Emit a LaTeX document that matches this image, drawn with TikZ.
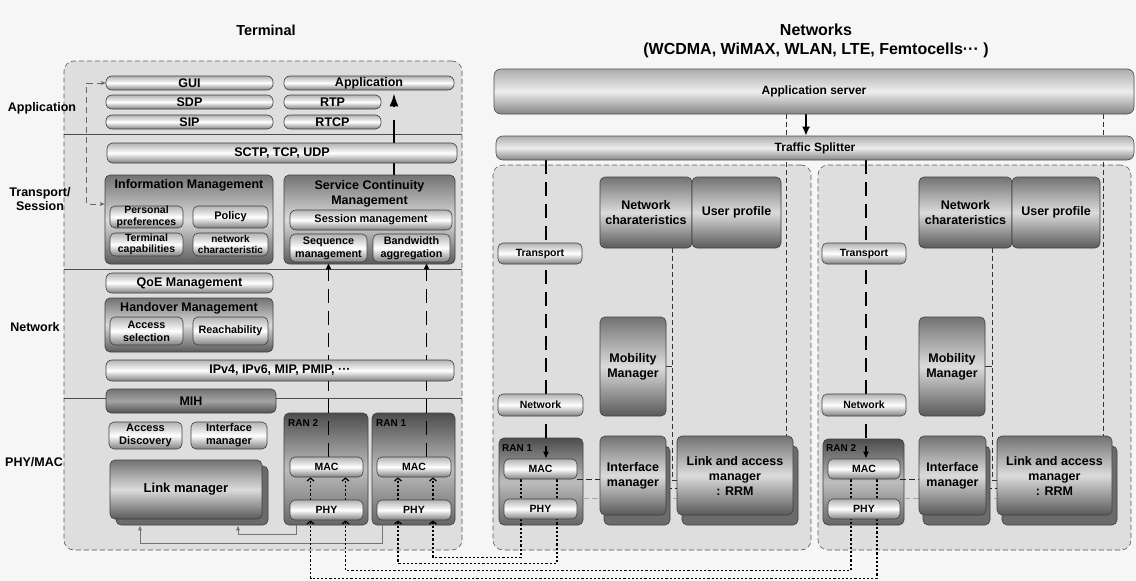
\documentclass[tikz,border=0pt]{standalone}
\usepackage{fontspec}
\setmainfont{Liberation Sans}
\usetikzlibrary{arrows.meta}
\pgfdeclarelayer{back}
\pgfdeclarelayer{wires}
\pgfsetlayers{back,wires,main}
\definecolor{pagebg}{HTML}{F6F6F6}
\definecolor{zonefill}{HTML}{DEDEDE}

\begin{document}
\begin{tikzpicture}[x=1pt, y=-1pt,
    sz/.style 2 args={minimum width=#1pt, minimum height=#2pt},
    pill/.style={draw=black!75, line width=0.6pt, rounded corners=6pt, top color=black!30, bottom color=black!50, middle color=white, inner sep=0pt, align=center, font=\bfseries\fontsize{12.5}{14}\selectfont},
    subpill/.style={pill, rounded corners=5pt, font=\bfseries\fontsize{10.5}{11.5}\selectfont},
    mgmtbox/.style={draw=black!75, line width=0.6pt, rounded corners=5pt, top color=black!55, bottom color=black!65, middle color=black!14, inner sep=0pt, align=center, font=\bfseries\fontsize{12.5}{15}\selectfont},
    mihbox/.style={mgmtbox, top color=black!55, bottom color=black!68, middle color=black!36},
    ranbox/.style={draw=black!75, line width=0.6pt, rounded corners=5pt, top color=black!70, bottom color=black!60, middle color=black!26, inner sep=0pt},
    backcopy/.style={draw=black!75, line width=0.6pt, rounded corners=5pt, fill=black!58},
    serverbar/.style={draw=black!70, line width=0.6pt, rounded corners=7pt, top color=black!32, bottom color=black!48, middle color=black!7, inner sep=0pt, font=\bfseries\fontsize{12}{14}\selectfont},
    zone/.style={draw=black!65, dash pattern=on 5pt off 3pt, line width=0.6pt, rounded corners=10pt, fill=zonefill, inner sep=0pt},
    layertext/.style={font=\bfseries\fontsize{12.5}{14}\selectfont, align=center},
    headtext/.style={font=\bfseries\fontsize{14.5}{16}\selectfont, align=center},
    boxtitle/.style={font=\bfseries\fontsize{12.5}{15}\selectfont, align=center},
    ranlabel/.style={anchor=west, font=\bfseries\fontsize{10}{12}\selectfont, inner sep=0pt},
    sepline/.style={black!70, line width=0.6pt},
    infolink/.style={black!60, line width=0.8pt, dash pattern=on 6pt off 4pt, {Stealth[length=5pt,width=4pt]}-{Stealth[length=5pt,width=4pt]}},
    upflow/.style={line width=2pt, dash pattern=on 55pt off 13pt, -{Latex[length=13pt,width=9pt]}},
    seqflow/.style={line width=1.6pt, dash pattern=on 14pt off 8pt, -{Latex[length=7pt,width=6pt]}},
    airlink/.style={line width=1.6pt, dash pattern=on 2.2pt off 2pt},
    airup/.style={airlink, -{Straight Barb[length=3pt,width=7pt,line width=1.2pt]}},
    airin/.style={airlink, {Straight Barb[length=3pt,width=7pt,line width=1.2pt]}-},
    linkfeed/.style={black!55, line width=0.7pt, -{Latex[length=5pt,width=4pt]}},
    bigarrow/.style={line width=1.6pt, -{Latex[length=9pt,width=8pt]}},
    ctrl/.style={black!80, line width=0.6pt, dash pattern=on 5pt off 3pt},
    stub/.style={black!80, line width=0.6pt},
    macif/.style={black!85, line width=0.8pt, dash pattern=on 6pt off 3pt},
    phyif/.style={black!35, line width=0.8pt, dash pattern=on 6pt off 3pt}
]
\useasboundingbox (0,0) rectangle (1136,581);

\begin{pgfonlayer}{back}
    \fill[pagebg] (0,0) rectangle (1136,581);
    \node[zone, sz={398}{489}] (term) at (263,305.5) {};
    \node[zone, sz={318}{385}] (netzone1) at (652,357.5) {};
    \node[zone, sz={313}{385}] (netzone2) at (974.5,357.5) {};
    \node[ranbox, sz={84}{112}] (tran2) at (326,469) {};
    \node[ranbox, sz={83}{112}] (tran1) at (413.5,469) {};
    \node[ranbox, sz={84}{87}] (nran1) at (541,481.5) {};
    \node[ranbox, sz={81}{86}] (nran2) at (863.5,482) {};
\end{pgfonlayer}

\node[headtext] (termhead) at (266,30) {Terminal};
\node[headtext, font=\bfseries\fontsize{16}{19}\selectfont] (nethead) at (816,41) {Networks\\(WCDMA, WiMAX, WLAN, LTE, Femtocells··· )};

\node[layertext] (applabel) at (42,108) {Application};
\node[layertext] (translabel) at (40,199) {Transport/\\Session};
\node[layertext] (netlabel) at (35,327) {Network};
\node[layertext] (phylabel) at (34,462) {PHY/MAC};

\node[pill, sz={167}{14}] (gui) at (189.5,83) {GUI};
\node[pill, sz={167}{14}] (sdp) at (189.5,102) {SDP};
\node[pill, sz={167}{14}] (sip) at (189.5,122) {SIP};
\node[pill, sz={170}{14}] (app) at (369,83) {Application};
\node[pill, sz={97}{14}] (rtp) at (332.5,102) {RTP};
\node[pill, sz={97}{14}] (rtcp) at (332.5,122) {RTCP};
\node[pill, sz={350}{20}] (sctp) at (282,153) {SCTP, TCP, UDP};

\node[mgmtbox, sz={168}{89}] (infomgmt) at (189,219.5) {};
\node[boxtitle] (infotitle) at (189,185) {Information Management};
\node[subpill, sz={73}{22}] (prefs) at (146.5,217) {Personal\\preferences};
\node[subpill, sz={75}{22}, font=\bfseries\fontsize{11}{12}\selectfont] (policy) at (230.5,217) {Policy};
\node[subpill, sz={73}{23}] (termcap) at (146.5,244.5) {Terminal\\capabilities};
\node[subpill, sz={75}{23}, font=\bfseries\fontsize{10}{11.5}\selectfont] (netcharac) at (230.5,244.5) {network\\characteristic};

\node[mgmtbox, sz={171}{89}] (scm) at (369.5,219.5) {};
\node[boxtitle] (scmtitle) at (369.5,193.5) {Service Continuity\\Management};
\node[pill, sz={162}{20}, font=\bfseries\fontsize{11}{13}\selectfont] (session) at (371,220) {Session management};
\node[subpill, sz={77}{28}, font=\bfseries\fontsize{10.8}{13}\selectfont] (sequence) at (328.5,248) {Sequence\\management};
\node[subpill, sz={77}{28}, font=\bfseries\fontsize{10.8}{13}\selectfont] (bandwidth) at (411.5,248) {Bandwidth\\aggregation};

\node[pill, sz={167}{20}] (qoe) at (189.5,283) {QoE Management};
\node[mgmtbox, sz={168}{54}] (handover) at (189,325) {};
\node[boxtitle] (handtitle) at (189,308) {Handover Management};
\node[subpill, sz={73}{28}, font=\bfseries\fontsize{10.8}{13}\selectfont] (accsel) at (146.5,331) {Access\\selection};
\node[subpill, sz={75}{28}, font=\bfseries\fontsize{10.8}{13}\selectfont] (reach) at (230.5,331) {Reachability};
\node[pill, sz={348}{21}] (ipstack) at (280,370.5) {IPv4, IPv6, MIP, PMIP, ···};
\node[mihbox, sz={170}{24}] (mih) at (191,401) {MIH};

\node[subpill, sz={73}{27}, font=\bfseries\fontsize{11}{13}\selectfont] (accdisc) at (145.5,435.5) {Access\\Discovery};
\node[subpill, sz={76}{27}, font=\bfseries\fontsize{11}{13}\selectfont] (ifmgr) at (229,435.5) {Interface\\manager};
\node[backcopy, sz={152}{59}] (linkmgrback) at (192,495.5) {};
\node[mgmtbox, sz={152}{59}, font=\bfseries\fontsize{13}{15}\selectfont] (linkmgr) at (186,489.5) {Link manager};

\node[ranlabel] (tran2label) at (288,423) {RAN 2};
\node[ranlabel] (tran1label) at (376,423) {RAN 1};
\node[subpill, sz={73}{20}] (tmac2) at (326.5,467) {MAC};
\node[subpill, sz={73}{20}] (tphy2) at (326.5,510) {PHY};
\node[subpill, sz={74}{20}] (tmac1) at (414,467) {MAC};
\node[subpill, sz={74}{20}] (tphy1) at (414,510) {PHY};

\node[serverbar, sz={640}{45}] (appserver) at (814,91.5) {Application server};
\node[serverbar, sz={638}{24}] (splitter) at (815,148) {Traffic Splitter};

\node[subpill, sz={84}{21}] (trans1) at (540,253.5) {Transport};
\node[subpill, sz={85}{22}] (nw1) at (540.5,405) {Network};
\node[mgmtbox, sz={92}{71}] (nchar1) at (646,212.5) {Network\\charateristics};
\node[mgmtbox, sz={89}{71}] (user1) at (736.5,212.5) {User profile};
\node[mgmtbox, sz={66}{99}] (mob1) at (633,366.5) {Mobility\\Manager};
\node[ranlabel] (nran1label) at (502,448) {RAN 1};
\node[subpill, sz={73}{20}] (nmac1) at (540.5,469) {MAC};
\node[subpill, sz={73}{20}] (nphy1) at (540.5,509) {PHY};
\node[backcopy, sz={66}{79}] (if1back) at (637,485.5) {};
\node[mgmtbox, sz={66}{79}] (if1) at (633,475.5) {Interface\\manager};
\node[backcopy, sz={116}{79}] (link1back) at (740,485.5) {};
\node[mgmtbox, sz={116}{79}] (link1) at (735,475.5) {Link and access\\manager\\: RRM};

\node[subpill, sz={84}{21}] (trans2) at (864,253.5) {Transport};
\node[subpill, sz={84}{22}] (nw2) at (864,405) {Network};
\node[mgmtbox, sz={93}{71}] (nchar2) at (965.5,212.5) {Network\\charateristics};
\node[mgmtbox, sz={88}{71}] (user2) at (1056,212.5) {User profile};
\node[mgmtbox, sz={66}{99}] (mob2) at (952,366.5) {Mobility\\Manager};
\node[ranlabel] (nran2label) at (826,448) {RAN 2};
\node[subpill, sz={72}{20}] (nmac2) at (864,469) {MAC};
\node[subpill, sz={72}{20}] (nphy2) at (864,509) {PHY};
\node[backcopy, sz={67}{79}] (if2back) at (956.5,485.5) {};
\node[mgmtbox, sz={67}{79}] (if2) at (952.5,475.5) {Interface\\manager};
\node[backcopy, sz={115}{79}] (link2back) at (1059.5,485.5) {};
\node[mgmtbox, sz={115}{79}] (link2) at (1054.5,475.5) {Link and access\\manager\\: RRM};

\begin{pgfonlayer}{wires}
    \draw[sepline] (term.west |- 0,134) -- (term.east |- 0,134);
    \draw[sepline] (term.west |- 0,269) -- (term.east |- 0,269);
    \draw[sepline] (term.west |- 0,398) -- (term.east |- 0,398);

    \draw[infolink] (gui.west) -- ++(-19,0) |- ([yshift=15.5pt]infomgmt.west);
    \draw[upflow] ([xshift=24.5pt]scm.north) -- ([xshift=25pt,yshift=-3pt]app.south);
    \coordinate (bwin) at ([xshift=15pt]bandwidth.south);
    \draw[seqflow] (tmac2.north -| sequence.south) -- (sequence.south);
    \draw[seqflow] (tmac1.north -| bwin) -- (bwin);

    \draw[airup] ([xshift=-16pt]tphy2.north) -- ([xshift=-16pt]tmac2.south);
    \draw[airup] ([xshift=19pt]tphy2.north) -- ([xshift=19pt]tmac2.south);
    \draw[airup] ([xshift=-16pt]tphy1.north) -- ([xshift=-16pt]tmac1.south);
    \draw[airup] ([xshift=19pt]tphy1.north) -- ([xshift=19pt]tmac1.south);

    \draw[linkfeed] ([xshift=-30pt]tran2.south) -- ++(0,9) -| ([xshift=52pt,yshift=-6pt]linkmgr.south);
    \draw[linkfeed] ([xshift=-31.5pt]tran1.south) -- ++(0,18) -| ([xshift=-46pt,yshift=-6pt]linkmgr.south);

    \draw[airlink] ([xshift=-19.5pt]nmac1.south) -- ([xshift=-19.5pt]nphy1.north);
    \draw[airlink] ([xshift=16.5pt]nmac1.south) -- ([xshift=16.5pt]nphy1.north);
    \draw[airlink] ([xshift=-13pt]nmac2.south) -- ([xshift=-13pt]nphy2.north);
    \draw[airlink] ([xshift=13pt]nmac2.south) -- ([xshift=13pt]nphy2.north);

    \draw[airin] ([xshift=19pt]tphy1.south) -- ++(0,37) -| ([xshift=-19.5pt]nphy1.south);
    \draw[airin] ([xshift=-16pt]tphy1.south) -- ++(0,43) -| ([xshift=16.5pt]nphy1.south);
    \draw[airin] ([xshift=19pt]tphy2.south) -- ++(0,50) -| ([xshift=-13pt]nphy2.south);
    \draw[airin] ([xshift=-16pt]tphy2.south) -- ++(0,58) -| ([xshift=13pt]nphy2.south);

    \draw[bigarrow] ([xshift=-8pt]appserver.south) -- ([xshift=-9pt]splitter.north);
    \coordinate (down1) at ([xshift=5.5pt]nmac1.north);
    \coordinate (down2) at ([xshift=2pt]nmac2.north);
    \draw[seqflow] (splitter.south -| down1) -- (down1);
    \draw[seqflow] (splitter.south -| down2) -- (down2);

    \coordinate (rrm1) at ([xshift=51pt]link1.north);
    \coordinate (rrm2) at ([xshift=48.5pt]link2.north);
    \draw[ctrl] (appserver.south -| rrm1) -- (rrm1);
    \draw[ctrl] (appserver.south -| rrm2) -- (rrm2);
    \draw[ctrl] ([xshift=26pt]nchar1.south) |- ([yshift=-4.5pt]link1.west);
    \draw[ctrl] ([xshift=26.5pt]nchar2.south) |- ([yshift=-4.5pt]link2.west);
    \draw[stub] (mob1.east) -- ++(6,0);
    \draw[stub] (mob2.east) -- ++(7,0);

    \draw[macif] (nmac1.south east) -- (nmac1.south east -| if1.west);
    \draw[macif] (nmac2.south east) -- (nmac2.south east -| if2.west);
    \draw[macif] ([yshift=-12.5pt]if1.east) -- ([yshift=-12.5pt]link1.west);
    \draw[macif] ([yshift=-12.5pt]if2.east) -- ([yshift=-12.5pt]link2.west);
    \draw[phyif] (nran1.east |- nphy1.north) -- (link1.west |- nphy1.north);
    \draw[phyif] (nran2.east |- nphy2.north) -- (link2.west |- nphy2.north);
\end{pgfonlayer}
\end{tikzpicture}
\end{document}
